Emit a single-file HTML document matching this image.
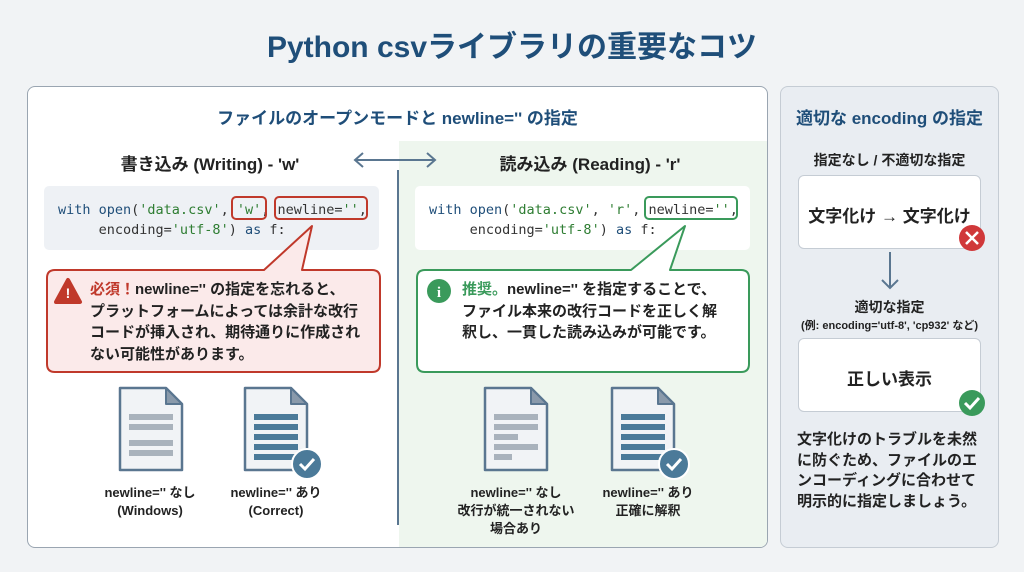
<!DOCTYPE html><html><head><meta charset="utf-8"><style>
*{margin:0;padding:0;box-sizing:border-box}
body{width:1024px;height:572px;background:#f1f3f5;font-family:"Liberation Sans","Noto Sans CJK JP",sans-serif;position:relative;overflow:hidden;color:#222}
.a{position:absolute}
.c{text-align:center}
.mono{font-family:"DejaVu Sans Mono","Liberation Mono",monospace;font-size:13.5px;color:#333}
.b{font-weight:bold}
.kw{color:#1f4e79}.st{color:#2e7d32}
.lab{position:absolute;width:140px;text-align:center;font-weight:bold;font-size:13px;line-height:18px;color:#222}
</style></head><body>
<div class="a c b" style="left:0;top:22px;width:1024px;font-size:30px;color:#1f4e79">Python csvライブラリの重要なコツ</div>

<div class="a" style="left:27px;top:86px;width:741px;height:462px;background:#fff;border:1.5px solid #9aa5b1;border-radius:8px;overflow:hidden">
 <div class="a" style="left:371px;top:54px;width:370px;height:410px;background:#eef6ee"></div>
</div>
<div class="a c b" style="left:27px;top:104px;width:741px;font-size:17px;color:#1f4e79">ファイルのオープンモードと newline='' の指定</div>
<div class="a" style="left:397px;top:170px;width:2px;height:355px;background:#5a7690"></div>
<div class="a c b" style="left:40px;top:150px;width:340px;font-size:17px">書き込み (Writing) - 'w'</div>
<div class="a c b" style="left:420px;top:150px;width:340px;font-size:17px">読み込み (Reading) - 'r'</div>
<svg class="a" style="left:345px;top:150px" width="100" height="20"><path d="M10 10H90M18 3L10 10L18 17M82 3L90 10L82 17" stroke="#5a7690" stroke-width="2" fill="none"/></svg>

<div class="a" style="left:44px;top:186px;width:335px;height:64px;background:#eef1f5;border-radius:5px"></div>
<div class="a mono" style="left:58px;top:200px;line-height:20px;white-space:pre"><span class="kw">with open</span>(<span class="st">'data.csv'</span>, <span class="st">'w'</span>, newline=<span class="st">''</span>,
     encoding=<span class="st">'utf-8'</span>) <span class="kw">as</span> f:</div>
<div class="a" style="left:231px;top:196px;width:36px;height:24px;border:2px solid #c0392b;border-radius:5px"></div>
<div class="a" style="left:274px;top:196px;width:94px;height:24px;border:2px solid #c0392b;border-radius:5px"></div>

<div class="a" style="left:415px;top:186px;width:335px;height:64px;background:#fff;border-radius:5px"></div>
<div class="a mono" style="left:429px;top:200px;line-height:20px;white-space:pre"><span class="kw">with open</span>(<span class="st">'data.csv'</span>, <span class="st">'r'</span>, newline=<span class="st">''</span>,
     encoding=<span class="st">'utf-8'</span>) <span class="kw">as</span> f:</div>
<div class="a" style="left:644px;top:196px;width:94px;height:24px;border:2px solid #3a9a5b;border-radius:5px"></div>

<svg class="a" style="left:0;top:0" width="1024" height="572">
<path d="M55 270H264L312 226L302 270H372Q380 270 380 278V364Q380 372 372 372H55Q47 372 47 364V278Q47 270 55 270Z" fill="#fbeaea" stroke="#c0392b" stroke-width="2" stroke-linejoin="round"/>
<path d="M425 270H631L685 226L670 270H741Q749 270 749 278V364Q749 372 741 372H425Q417 372 417 364V278Q417 270 425 270Z" fill="#fff" stroke="#3a9a5b" stroke-width="2" stroke-linejoin="round"/>
<path d="M68 280L80 302H56Z" fill="#c0392b" stroke="#c0392b" stroke-width="4" stroke-linejoin="round"/>
<text x="68" y="298" fill="#fff" font-size="14" font-weight="bold" text-anchor="middle" font-family="Liberation Sans">!</text>
<circle cx="439" cy="291" r="12" fill="#3a9a5b"/>
<text x="439" y="297" fill="#fff" font-size="15" font-weight="bold" text-anchor="middle" font-family="Liberation Serif">i</text>
</svg>
<div class="a b" style="left:90px;top:279px;width:290px;font-size:15px;line-height:21.5px;white-space:nowrap"><span style="color:#c0392b">必須！</span>newline='' の指定を忘れると、<br>プラットフォームによっては余計な改行<br>コードが挿入され、期待通りに作成され<br>ない可能性があります。</div>
<div class="a b" style="left:462px;top:279px;width:285px;font-size:15px;line-height:21.5px;white-space:nowrap"><span style="color:#3a9a5b">推奨。</span>newline='' を指定することで、<br>ファイル本来の改行コードを正しく解<br>釈し、一貫した読み込みが可能です。</div>

<svg class="a" style="left:0;top:0" width="1024" height="572">
<defs>
<g id="d"><path d="M0 0H46L62 16V82H0Z" fill="#f1f3f6" stroke="#5a7690" stroke-width="2.5" stroke-linejoin="round"/><path d="M46 0V16H62Z" fill="#8a9aab" stroke="#5a7690" stroke-width="2" stroke-linejoin="round"/></g>
</defs>
<g transform="translate(120,388)"><use href="#d"/><g fill="#a9b2bc"><rect x="9" y="26" width="44" height="6"/><rect x="9" y="36" width="44" height="6"/><rect x="9" y="52" width="44" height="6"/><rect x="9" y="62" width="44" height="6"/></g></g>
<g transform="translate(245,388)"><use href="#d"/><g fill="#4b7a99"><rect x="9" y="26" width="44" height="6"/><rect x="9" y="36" width="44" height="6"/><rect x="9" y="46" width="44" height="6"/><rect x="9" y="56" width="44" height="6"/><rect x="9" y="66" width="44" height="6"/></g><circle cx="62" cy="76" r="15" fill="#4b7a99" stroke="#fff" stroke-width="2"/><path d="M55 76L60 81L69 71" stroke="#fff" stroke-width="3" fill="none"/></g>
<g transform="translate(485,388)"><use href="#d"/><g fill="#a9b2bc"><rect x="9" y="26" width="44" height="6"/><rect x="9" y="36" width="44" height="6"/><rect x="9" y="46" width="24" height="6"/><rect x="9" y="56" width="44" height="6"/><rect x="9" y="66" width="18" height="6"/></g></g>
<g transform="translate(612,388)"><use href="#d"/><g fill="#4b7a99"><rect x="9" y="26" width="44" height="6"/><rect x="9" y="36" width="44" height="6"/><rect x="9" y="46" width="44" height="6"/><rect x="9" y="56" width="44" height="6"/><rect x="9" y="66" width="44" height="6"/></g><circle cx="62" cy="76" r="15" fill="#4b7a99" stroke="#fff" stroke-width="2"/><path d="M55 76L60 81L69 71" stroke="#fff" stroke-width="3" fill="none"/></g>
</svg>
<div class="lab" style="left:80px;top:484px">newline='' なし<br>(Windows)</div>
<div class="lab" style="left:206px;top:484px">newline='' あり<br>(Correct)</div>
<div class="lab" style="left:446px;top:484px">newline='' なし<br>改行が統一されない<br>場合あり</div>
<div class="lab" style="left:578px;top:484px">newline='' あり<br>正確に解釈</div>

<div class="a" style="left:780px;top:86px;width:219px;height:462px;background:#e9edf2;border:1.5px solid #c5ccd4;border-radius:8px"></div>
<div class="a c b" style="left:780px;top:104px;width:219px;font-size:17px;color:#1f4e79">適切な encoding の指定</div>
<div class="a c b" style="left:780px;top:150px;width:219px;font-size:14px">指定なし / 不適切な指定</div>
<div class="a" style="left:798px;top:175px;width:183px;height:74px;background:#fff;border:1.5px solid #c5ccd4;border-radius:6px"></div>
<div class="a c b" style="left:798px;top:202px;width:183px;font-size:17px">文字化け → 文字化け</div>
<div class="a" style="left:798px;top:338px;width:183px;height:74px;background:#fff;border:1.5px solid #c5ccd4;border-radius:6px"></div>
<div class="a c b" style="left:798px;top:365px;width:183px;font-size:17px">正しい表示</div>
<svg class="a" style="left:0;top:0" width="1024" height="572">
<circle cx="972" cy="238" r="13" fill="#d0383a"/><path d="M966 232L978 244M978 232L966 244" stroke="#fff" stroke-width="2.5"/>
<circle cx="972" cy="403" r="13" fill="#3a9a5b"/><path d="M965 403L970 408L979 398" stroke="#fff" stroke-width="3" fill="none"/>
<path d="M890 252V288M882 280L890 288L898 280" stroke="#5a7690" stroke-width="2" fill="none"/>
</svg>
<div class="a c b" style="left:780px;top:297px;width:219px;font-size:14px">適切な指定</div>
<div class="a c b" style="left:780px;top:317px;width:219px;font-size:11px">(例: encoding='utf-8', 'cp932' など)</div>
<div class="a b" style="left:797px;top:430px;width:190px;font-size:15px;line-height:20.5px">文字化けのトラブルを未然に防ぐため、ファイルのエンコーディングに合わせて明示的に指定しましょう。</div>
</body></html>
